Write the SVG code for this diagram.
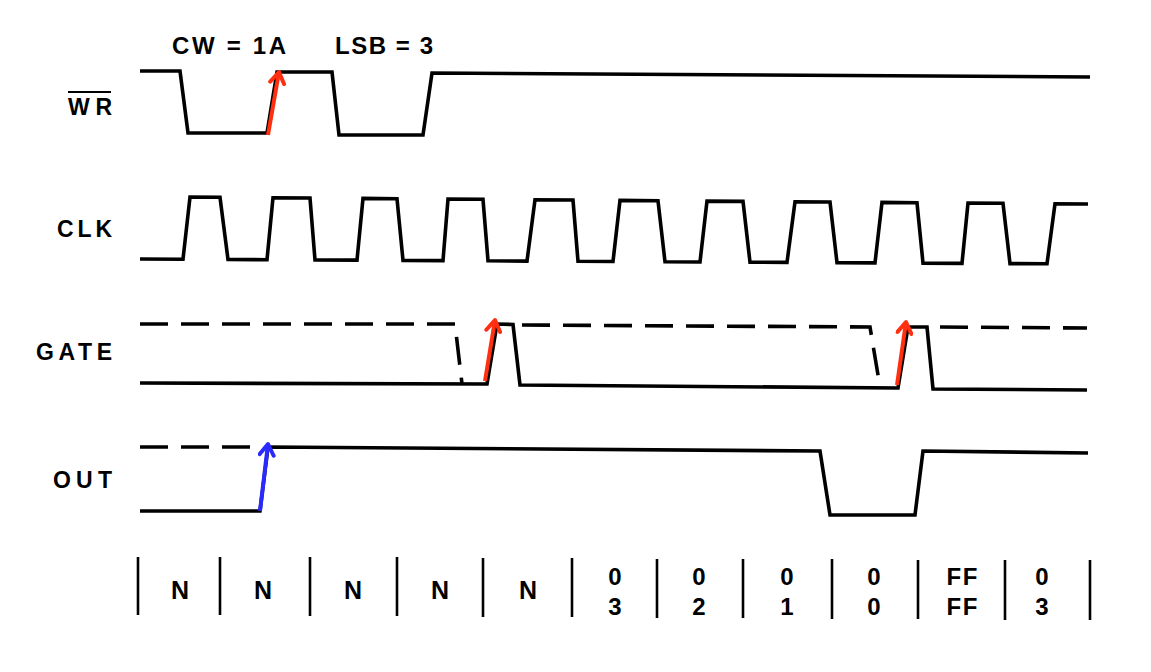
<svg xmlns="http://www.w3.org/2000/svg" width="1151" height="672" viewBox="0 0 1151 672">
<style>
.sig{fill:none;stroke:#000;stroke-width:3.6;stroke-linejoin:miter;stroke-linecap:butt}
.dash{stroke-dasharray:28 13}
.tick{stroke:#000;stroke-width:2.6}
.lbl{font-family:"Liberation Sans",Arial,sans-serif;font-weight:bold;font-size:23px;fill:#000}
.big{font-size:24px}
.val{font-size:24px;text-anchor:middle}
.n{font-size:25px;text-anchor:middle}
.red{stroke:#ff2f10;stroke-width:4;fill:none}
.blue{stroke:#2a2aff;stroke-width:4;fill:none}
</style>
<defs>
<marker id="ahr" viewBox="-14 -9 16 18" markerWidth="16" markerHeight="18" refX="0" refY="0" orient="auto" markerUnits="userSpaceOnUse">
<path d="M-11,-7 L0,0 L-11,7" fill="none" stroke="#ff2f10" stroke-width="4" stroke-linecap="round" stroke-linejoin="round"/>
</marker>
<marker id="ahb" viewBox="-14 -9 16 18" markerWidth="16" markerHeight="18" refX="0" refY="0" orient="auto" markerUnits="userSpaceOnUse">
<path d="M-11,-7 L0,0 L-11,7" fill="none" stroke="#2a2aff" stroke-width="4" stroke-linecap="round" stroke-linejoin="round"/>
</marker>
</defs>
<rect width="1151" height="672" fill="#fff"/>

<g id="labels">
<text class="lbl big" x="172" y="54" textLength="114" lengthAdjust="spacing">CW = 1A</text>
<text class="lbl big" x="335" y="54" textLength="98" lengthAdjust="spacing">LSB = 3</text>
</g>

<g id="wr">
<text class="lbl" x="68" y="115" textLength="44" lengthAdjust="spacing">WR</text>
<line x1="68" y1="92" x2="111" y2="92" stroke="#000" stroke-width="2"/>
<path class="sig" d="M140,71 L180,71 L188,133 L267,133 L277,72 L332,72 L339,135 L423,135 L432,73 L1090,77"/>
</g>

<g id="clk">
<text class="lbl" x="57" y="237" textLength="55" lengthAdjust="spacing">CLK</text>
<path class="sig" d="M140,259 L183,259.2 L190,197.1 L220,197.3 L228,259.5 L267,259.7 L273,197.7 L310,198 L315,260 L357,260.1 L363,198.4 L397,198.7 L403,260.4 L443,260.6 L448,199 L483,199.3 L488,260.8 L527,261.1 L535,199.7 L573,200 L578,261.3 L613,261.5 L620,200.4 L658,200.7 L665,261.8 L700,262 L707,201.1 L743,201.4 L750,262.2 L787,262.4 L795,201.7 L830,202 L837,262.7 L875,262.9 L882,202.4 L917,202.7 L923,263.1 L962,263.4 L968,203.1 L1003,203.3 L1010,263.6 L1047,263.8 L1055,203.8 L1088,204"/>
</g>

<g id="gate">
<text class="lbl" x="36" y="360" textLength="76" lengthAdjust="spacing">GATE</text>
<path class="sig dash" d="M140,324 L455,324 L462,384"/>
<path class="sig dash" d="M522,325 L870,327 L880,387"/>
<path class="sig dash" d="M940,327 L1087,328"/>
<path class="sig" d="M140,383 L487,384 L497,324 L513,324.5 L520,385 L898,388 L908,327 L927,327 L933,389 L1087,390"/>
</g>

<g id="out">
<text class="lbl" x="53" y="488" textLength="59" lengthAdjust="spacing">OUT</text>
<path class="sig dash" d="M140,447 L257,447"/>
<path class="sig" d="M140,511 L260,511 L268,447 L820,451 L830,515 L915,515 L923,451 L1088,453"/>
</g>

<g id="connectors">
<line class="red" x1="268" y1="135" x2="279" y2="72" marker-end="url(#ahr)"/>
<line class="red" x1="485" y1="381" x2="495" y2="320" marker-end="url(#ahr)"/>
<line class="red" x1="897" y1="385" x2="906" y2="322" marker-end="url(#ahr)"/>
<line class="blue" x1="260" y1="511" x2="268" y2="444" marker-end="url(#ahb)"/>
</g>

<g id="counts">
<line class="tick" x1="138" y1="557" x2="138" y2="615"/>
<line class="tick" x1="220" y1="557" x2="220" y2="615"/>
<line class="tick" x1="310" y1="557" x2="310" y2="616"/>
<line class="tick" x1="397" y1="557" x2="397" y2="616"/>
<line class="tick" x1="483" y1="558" x2="483" y2="617"/>
<line class="tick" x1="572" y1="558" x2="572" y2="617"/>
<line class="tick" x1="657" y1="559" x2="657" y2="618"/>
<line class="tick" x1="743" y1="559" x2="743" y2="618"/>
<line class="tick" x1="832" y1="559" x2="832" y2="619"/>
<line class="tick" x1="918" y1="560" x2="918" y2="619"/>
<line class="tick" x1="1005" y1="560" x2="1005" y2="620"/>
<line class="tick" x1="1090" y1="560" x2="1090" y2="620"/>
<text class="lbl n" x="180" y="599">N</text>
<text class="lbl n" x="263" y="599">N</text>
<text class="lbl n" x="353" y="599">N</text>
<text class="lbl n" x="440" y="599">N</text>
<text class="lbl n" x="528" y="599">N</text>
<text class="lbl val" x="615" y="585">0</text>
<text class="lbl val" x="615" y="615">3</text>
<text class="lbl val" x="699" y="585">0</text>
<text class="lbl val" x="699" y="615">2</text>
<text class="lbl val" x="787" y="585">0</text>
<text class="lbl val" x="787" y="615">1</text>
<text class="lbl val" x="874" y="585">0</text>
<text class="lbl val" x="874" y="615">0</text>
<text class="lbl val" x="962" y="585" textLength="31" lengthAdjust="spacing">FF</text>
<text class="lbl val" x="962" y="615" textLength="31" lengthAdjust="spacing">FF</text>
<text class="lbl val" x="1042" y="585">0</text>
<text class="lbl val" x="1042" y="615">3</text>
</g>
</svg>
